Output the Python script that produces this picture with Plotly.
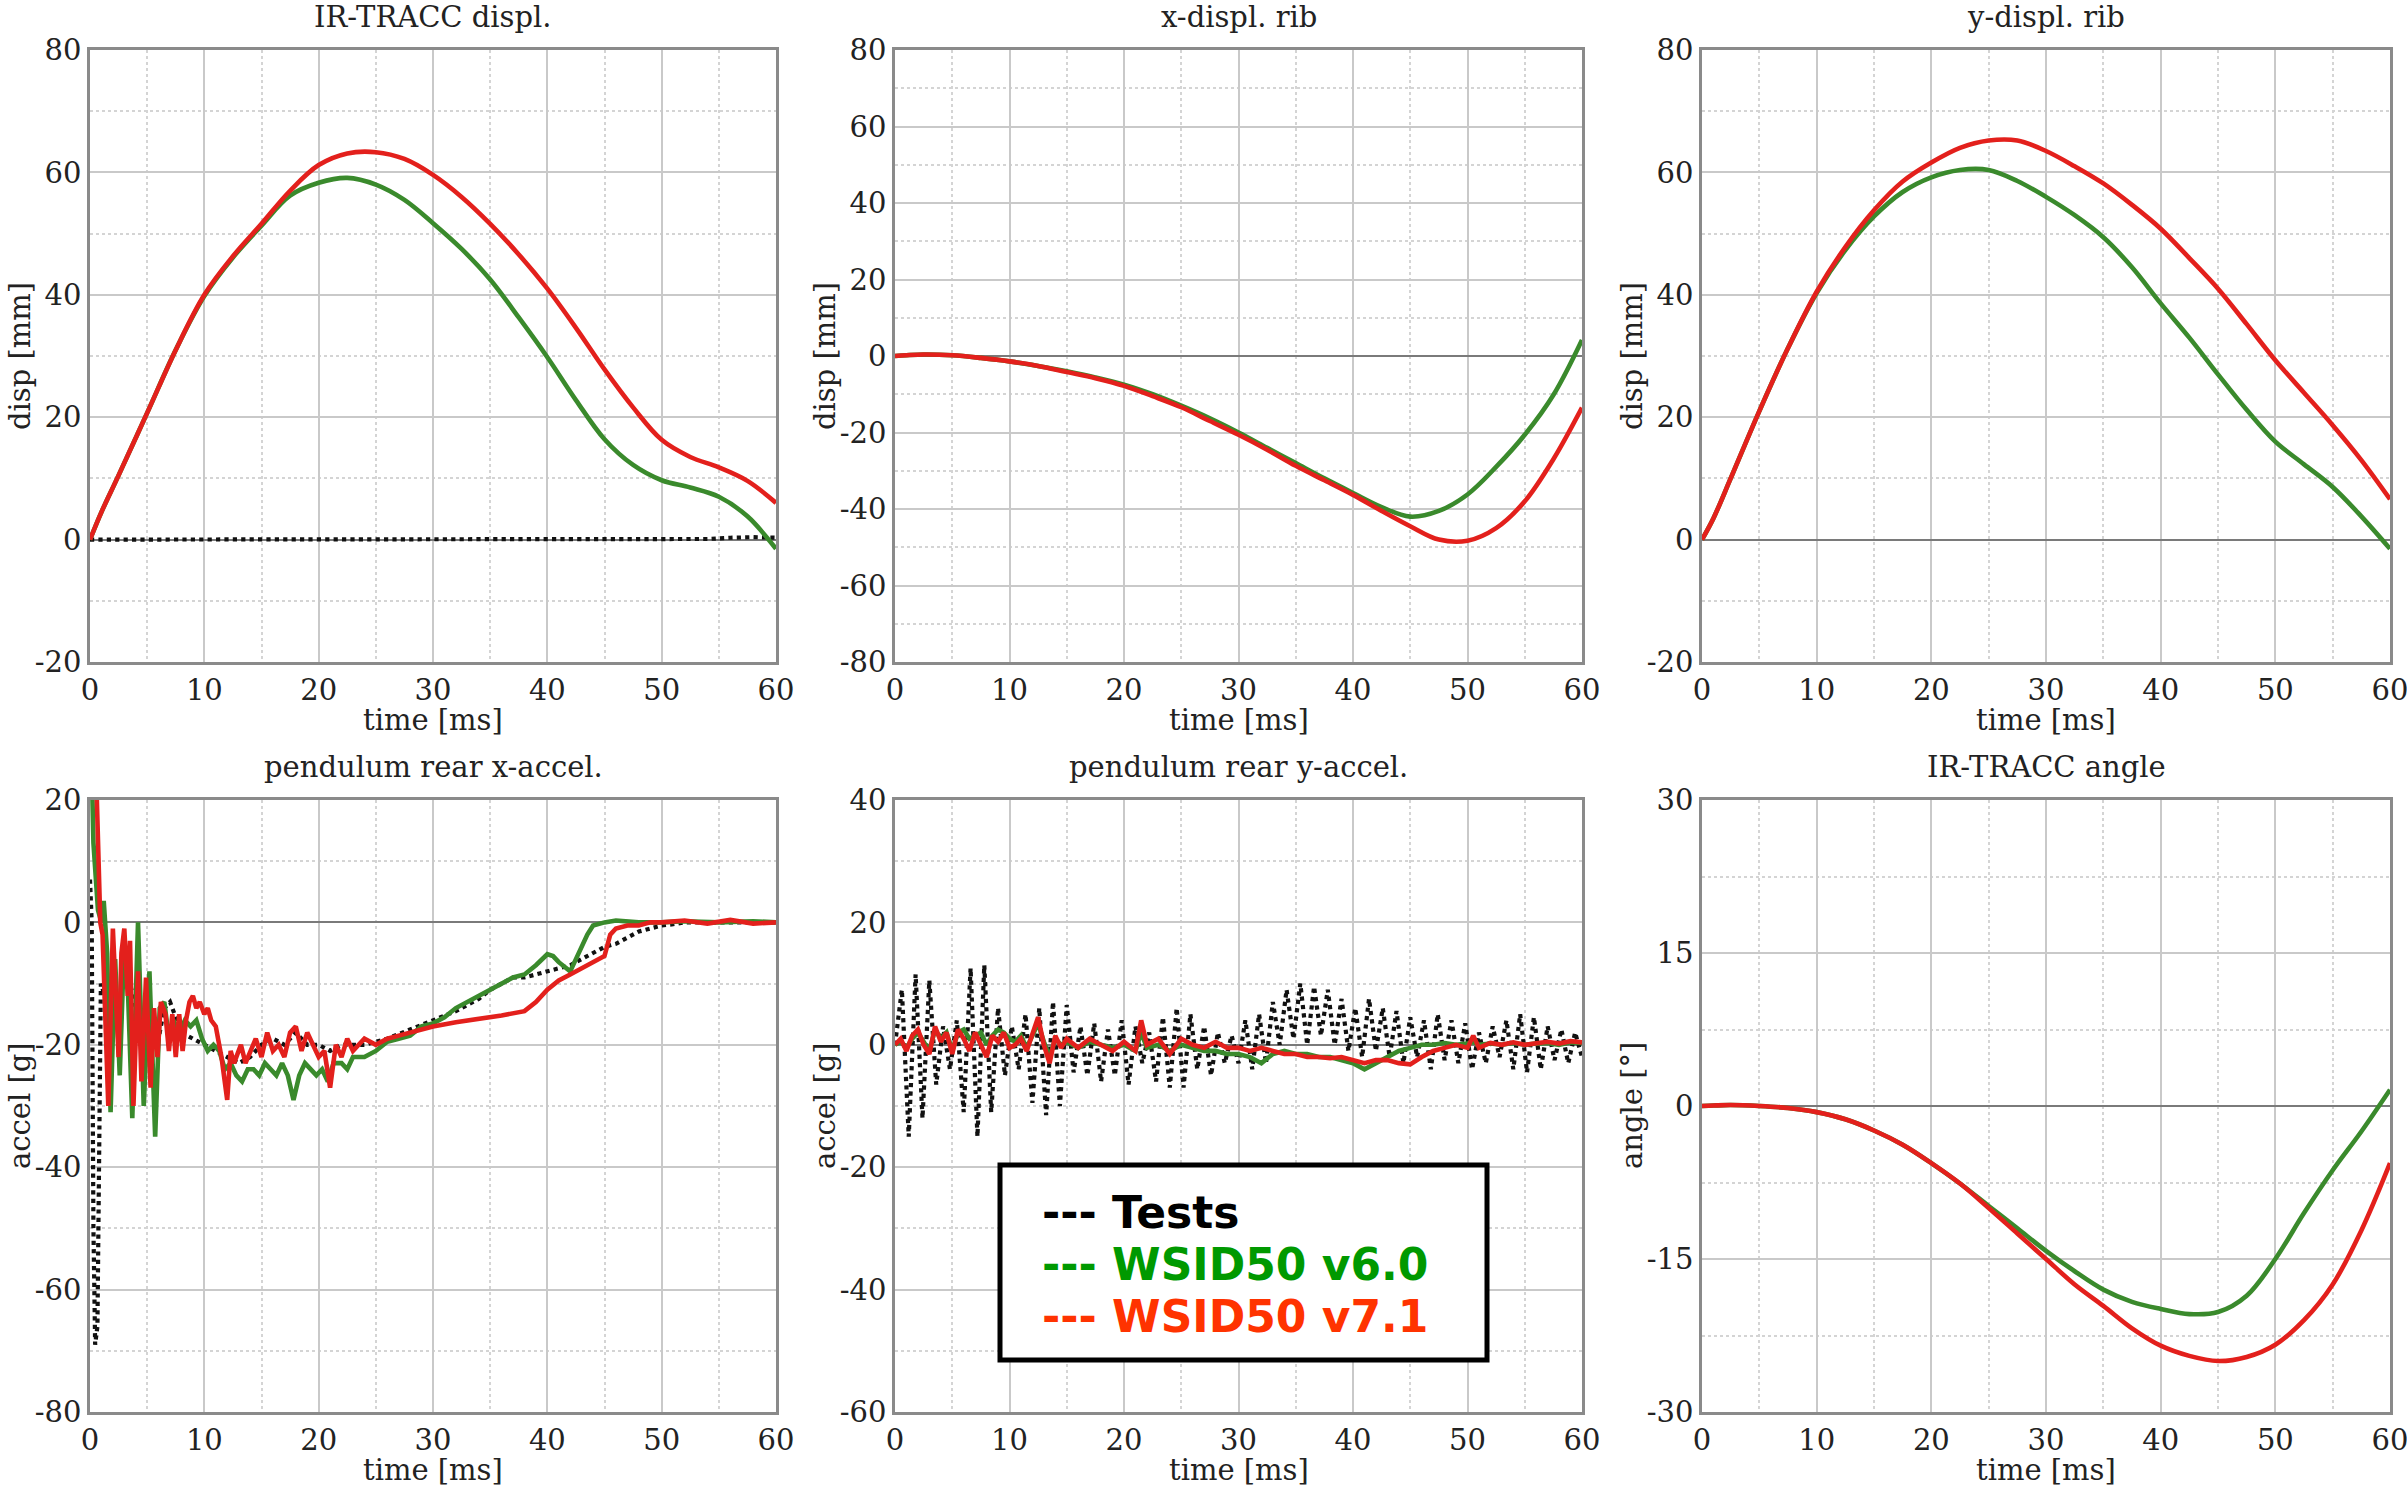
import plotly.graph_objects as go

W, H = 2407, 1487

# ---------------- data ----------------
T_SMOOTH = [0, 1, 2.5, 5, 7.5, 10, 12.5, 15, 17.5, 20, 22.5, 25, 27.5, 30, 32.5, 35,
            37.5, 40, 42.5, 45, 47.5, 50, 52.5, 55, 57.5, 60]

# IR-TRACC displ.
P1_V71 = [0, 4.5, 10.5, 20.7, 31.0, 40.0, 46.3, 51.6, 57.0, 61.2, 63.1, 63.3, 62.2, 59.6,
          56.0, 51.6, 46.6, 41.0, 34.6, 27.8, 21.6, 16.3, 13.5, 11.8, 9.6, 6.0]
P1_V60 = [0, 4.5, 10.5, 20.7, 31.0, 39.8, 46.1, 51.3, 56.2, 58.3, 59.1, 58.0, 55.5, 51.7,
          47.5, 42.5, 36.3, 29.8, 22.8, 16.4, 12.2, 9.7, 8.5, 7.0, 3.8, -1.5]
P1_TEST_T = [0, 10, 20, 30, 40, 50, 54, 56, 58, 60]
P1_TEST = [0, 0, 0, 0, 0, 0, 0.1, 0.3, 0.4, 0.3]

# x-displ. rib
P2_V71 = [0, 0.2, 0.4, 0.2, -0.5, -1.4, -2.6, -4.2, -5.8, -7.8, -10.5, -13.4, -17.0, -20.6,
          -24.5, -28.7, -32.5, -36.3, -40.5, -44.5, -48.0, -48.3, -45.0, -38.0, -27.0, -13.5]
P2_V60 = [0, 0.2, 0.4, 0.2, -0.5, -1.4, -2.6, -4.0, -5.6, -7.5, -10.0, -13.0, -16.3, -20.0,
          -24.0, -28.0, -32.0, -35.8, -39.5, -42.0, -40.5, -36.2, -29.0, -20.6, -10.2, 4.2]

# y-displ. rib
P3_V71 = [0, 3.5, 10.0, 21.0, 31.3, 40.5, 47.8, 53.8, 58.5, 61.6, 64.0, 65.2, 65.2, 63.5,
          61.0, 58.2, 54.7, 50.8, 46.0, 41.0, 35.2, 29.3, 24.0, 18.7, 13.0, 6.6]
P3_V60 = [0, 3.5, 10.0, 21.0, 31.3, 40.3, 47.3, 52.8, 56.8, 59.2, 60.4, 60.4, 58.6, 56.0,
          53.0, 49.4, 44.5, 38.6, 33.0, 27.0, 21.2, 16.0, 12.3, 8.6, 3.8, -1.5]

# IR-TRACC angle
P6_V71 = [0, 0.05, 0.1, 0, -0.2, -0.6, -1.3, -2.4, -3.8, -5.6, -7.6, -10.0, -12.5, -15.0,
          -17.5, -19.6, -21.8, -23.5, -24.5, -25.0, -24.6, -23.4, -21.0, -17.5, -12.2, -5.6]
P6_V60 = [0, 0.05, 0.1, 0, -0.2, -0.6, -1.3, -2.4, -3.8, -5.6, -7.6, -9.8, -12.0, -14.2,
          -16.2, -18.0, -19.2, -19.9, -20.4, -20.2, -18.6, -15.0, -10.5, -6.3, -2.5, 1.6]

# pendulum rear x-accel.
P4_TEST_T = [0, 0.15, 0.3, 0.45, 0.65, 0.8, 0.95, 1.3, 1.6, 2.0, 2.5, 3.0, 3.5, 4.0, 5.0, 6.0,
             6.5, 7.0, 8.0, 9.0, 10, 11, 12, 13, 14, 15, 16, 17, 18, 19, 20, 21, 22, 24, 26,
             28, 30, 32, 34, 35, 36, 37, 38, 39, 40, 41, 42, 43, 44, 45, 46, 47, 48, 49, 50,
             51, 52, 55, 60]
P4_TEST = [7, 0, -50, -69, -66, -40, -10, -12, -20, -12, -15, -8, -10, -14, -18, -19, -14,
           -13, -18, -19, -20, -21, -22, -23, -22, -20, -19, -20, -18, -20, -20, -21, -20,
           -20, -19, -17.5, -16, -14.5, -12.5, -11, -10, -9, -9, -8.5, -8, -7.5, -7, -6, -5,
           -4, -3.5, -2.5, -1.5, -1, -0.5, -0.3, 0, 0, 0]
P4_V71_T = [0.3, 0.6, 0.9, 1.1, 1.6, 2.0, 2.5, 2.75, 3.0, 3.3, 3.5, 3.8, 4.2, 4.5, 4.9, 5.3,
            5.6, 5.9, 6.2, 6.6, 6.9, 7.2, 7.5, 7.8, 8.1, 8.4, 8.7, 9.0, 9.3, 9.6, 10.0, 10.3,
            10.6, 11.0, 11.5, 12.0, 12.3, 12.6, 12.8, 13.2, 13.6, 14.0, 14.5, 15.0, 15.5,
            16.0, 16.5, 17.0, 17.5, 18.0, 18.5, 19.0, 19.5, 20.0, 20.5, 21.0, 21.5, 22.0,
            22.5, 23.0, 23.5, 24.0, 25, 26, 27, 28, 29, 30, 32, 34, 36, 38, 39, 40, 41, 42,
            43, 44, 45, 45.5, 46, 47, 48, 49, 50, 52, 54, 56, 58, 60]
P4_V71 = [40, 20, 0, -2, -30, -1, -22, -5, -1, -12, -3, -30, -8, -26, -9, -27, -14, -22, -13,
          -15, -21, -15, -22, -15, -21, -16, -13, -12, -14, -13, -15, -14, -16, -17, -22, -29,
          -21, -23, -22, -20, -23, -21, -19, -22, -18, -21, -20, -22, -18, -17, -21, -18, -20,
          -22, -21, -27, -20, -22, -19, -21, -20, -19, -20, -19, -18.5, -18, -17.5, -17,
          -16.3, -15.8, -15.2, -14.5, -13, -11, -9.5, -8.5, -7.5, -6.5, -5.5, -2, -1, -0.5,
          -0.5, 0, 0, 0.3, -0.2, 0.4, -0.2, 0]
P4_V60_T = [0.1, 0.3, 0.7, 1.0, 1.2, 1.5, 1.8, 2.2, 2.6, 3.0, 3.3, 3.7, 4.2, 4.7, 5.2, 5.7,
            6.1, 6.5, 6.9, 7.3, 7.8, 8.3, 8.8, 9.3, 9.8, 10.3, 10.8, 11.3, 11.8, 12.3, 12.8,
            13.3, 13.8, 14.3, 14.8, 15.3, 15.8, 16.3, 16.8, 17.3, 17.8, 18.3, 18.8, 19.3,
            19.8, 20.3, 20.8, 21.3, 22.0, 22.5, 23.0, 23.5, 24.0, 25, 26, 27, 28, 29, 30, 31,
            32, 33, 34, 35, 36, 37, 38, 39, 40, 40.5, 41, 42, 42.5, 43, 43.5, 44, 45, 46, 48,
            50, 52, 55, 58, 60]
P4_V60 = [30, 13, 2, 0, 3.5, -5, -31, -6, -25, -3, -10, -32, 0, -30, -8, -35, -14, -13, -19,
          -16, -18, -16, -17, -16, -19, -21, -20, -21, -24, -23, -25, -26, -24, -24, -25, -23,
          -24, -25, -23, -25, -29, -25, -23, -24, -25, -24, -26, -23, -23, -24, -22, -22, -22,
          -21, -19.5, -19, -18.5, -17, -16.5, -15.5, -14, -13, -12, -11, -10, -9, -8.5, -7,
          -5.2, -5.5, -6.5, -8, -6, -4, -2, -0.5, 0, 0.3, 0, 0, 0.2, 0, 0.2, 0]

# pendulum rear y-accel.
P5_TEST_T = [0.0, 0.6, 1.2, 1.8, 2.4, 3.0, 3.6, 4.2, 4.8, 5.4, 6.0, 6.6, 7.2, 7.8, 8.4, 9.0,
             9.6, 10.2, 10.8, 11.4, 12.0, 12.6, 13.2, 13.8, 14.4, 15.0, 15.6, 16.2, 16.8,
             17.4, 18.0, 18.6, 19.2, 19.8, 20.4, 21.0, 21.6, 22.2, 22.8, 23.4, 24.0, 24.6,
             25.2, 25.8, 26.4, 27.0, 27.6, 28.2, 28.8, 29.4, 30.0, 30.6, 31.2, 31.8, 32.4,
             33.0, 33.6, 34.2, 34.8, 35.4, 36.0, 36.6, 37.2, 37.8, 38.4, 39.0, 39.6, 40.2,
             40.8, 41.4, 42.0, 42.6, 43.2, 43.8, 44.4, 45.0, 45.6, 46.2, 46.8, 47.4, 48.0,
             48.6, 49.2, 49.8, 50.4, 51.0, 51.6, 52.2, 52.8, 53.4, 54.0, 54.6, 55.2, 55.8,
             56.4, 57.0, 57.6, 58.2, 58.8, 59.4, 60.0]
P5_TEST = [0, 9, -15, 11.5, -12, 10.5, -6.5, 3, -4, 4, -11, 12.5, -15, 13, -11, 6, -5, 3, -4,
           5, -9.5, 6, -11.5, 7, -10, 6.5, -4.5, 3, -5, 3.5, -6, 2.5, -5, 4, -6.5, 3, -3, 2,
           -6, 4.5, -7, 6, -7, 5, -4, 3, -5, 2, -3, 1.5, -3, 4, -4, 5, -3, 7, 0, 9, 1, 10, 0,
           9.5, 1.5, 9, 0, 7.5, -1, 6, -2, 7.5, -1, 6, -2, 5.5, -3, 4.5, -2, 4, -4, 5, -2.5,
           4, -3, 3.5, -4, 2, -3, 3, -2, 4, -4, 5, -4.5, 4.5, -4, 3, -2.5, 2.5, -3, 2, -2]
P5_SIM_T = [0, 0.5, 1, 1.5, 2, 2.5, 3, 3.5, 4, 4.5, 5, 5.5, 6, 6.5, 7, 7.5, 8, 8.5, 9, 9.5,
            10, 10.5, 11, 11.5, 12, 12.5, 13, 13.5, 14, 14.5, 15, 16, 17, 18, 19, 20, 21,
            21.5, 22, 23, 24, 25, 26, 27, 28, 29, 30, 31, 32, 33, 34, 35, 36, 37, 38, 39, 40,
            41, 42, 43, 44, 45, 46, 47, 48, 49, 50, 50.5, 51, 52, 53, 54, 55, 56, 57, 58, 59,
            60]
P5_V71 = [0, 1, -1, 1.5, 2.5, 0, -1.5, 3, 0.5, 2, -1.5, 2.5, 1, -1, 2, 0, -2, 1.5, 0.5, 2,
          -0.5, 0, 1, -1, 2, 4.5, 0, -3, 1.5, -0.5, 1,
          -0.5, 1, 0, -1, 0.5, -1, 4, 0, 1, -1.5, 1, 0, -0.5, 0.5, -0.5, -0.5, -1, -0.5, -1,
          -1.5, -1.5, -2, -2, -2.2, -2, -2.5, -3, -2.5, -2.5, -3, -3.2, -2, -1, -0.5, 0,
          -0.5, 1.5, -0.5, 0.3, 0, 0.4, 0, 0.3, 0.5, 0.2, 0.6, 0.4]
P5_V60 = [0, 0.5, -0.5, 1, 2, 0.5, -1, 2.5, 1, 2, -1, 2, 2.5, 1, 1.5, 2, 0, 1.5, 2.5, 2, 1,
          0.5, 1.5, -0.5, 1.5, 3.5, 0.5, -2, 1, 0, 0.5,
          -0.5, 0.5, 0, -0.5, 0, -1, 2, -0.5, 0, -1, 0, -0.5, -1, -1, -1.5, -1.5, -2, -3,
          -1.5, -1, -1.5, -1.5, -2, -2, -2.5, -3, -4, -3, -2, -1, -0.5, 0, 0, 0.3, 0, 0.2,
          0.5, 0, 0.2, 0, 0.3, 0, 0.2, 0.3, 0, 0.4, 0.3]

TITLES = ["IR-TRACC displ.", "x-displ. rib", "y-displ. rib",
          "pendulum rear x-accel.", "pendulum rear y-accel.", "IR-TRACC angle"]
YTITLES = ["disp [mm]", "disp [mm]", "disp [mm]", "accel [g]", "accel [g]", "angle [°]"]
YTICKS = [[-20, 0, 20, 40, 60, 80], [-80, -60, -40, -20, 0, 20, 40, 60, 80],
          [-20, 0, 20, 40, 60, 80], [-80, -60, -40, -20, 0, 20],
          [-60, -40, -20, 0, 20, 40], [-30, -15, 0, 15, 30]]
XTICKS = [0, 10, 20, 30, 40, 50, 60]
XTITLE = "time [ms]"
LEGEND_LABELS = ["--- Tests", "--- WSID50 v6.0", "--- WSID50 v7.1"]

# ---------------- styles ----------------
GREEN = "#3a8a2c"
RED = "#e3201c"
TEST_C = "#111111"
LEG_COLORS = ["#000000", "#009900", "#ff3300"]
FONT = "DejaVu Serif"
FS = 29
TXT = "#222222"
LW = 4.6

X_PIX = [(90, 776), (895, 1582), (1702, 2390)]
Y_PIX = [(50, 662), (800, 1412)]


def fx(p):
    return p / W


def fy(p):
    return 1 - p / H


fig = go.Figure()

series = [
    [(P1_TEST_T, P1_TEST, "test"), (T_SMOOTH, P1_V60, "g"), (T_SMOOTH, P1_V71, "r")],
    [(T_SMOOTH, P2_V60, "g"), (T_SMOOTH, P2_V71, "r")],
    [(T_SMOOTH, P3_V60, "g"), (T_SMOOTH, P3_V71, "r")],
    [(P4_TEST_T, P4_TEST, "test"), (P4_V60_T, P4_V60, "gn"), (P4_V71_T, P4_V71, "rn")],
    [(P5_TEST_T, P5_TEST, "test"), (P5_SIM_T, P5_V60, "gn"), (P5_SIM_T, P5_V71, "rn")],
    [(T_SMOOTH, P6_V60, "g"), (T_SMOOTH, P6_V71, "r")],
]

annotations = []
layout_axes = {}
for i in range(6):
    r, c = divmod(i, 3)
    x0, x1 = X_PIX[c]
    y0, y1 = Y_PIX[r]
    xa = "xaxis" if i == 0 else f"xaxis{i+1}"
    ya = "yaxis" if i == 0 else f"yaxis{i+1}"
    xref = "x" if i == 0 else f"x{i+1}"
    yref = "y" if i == 0 else f"y{i+1}"
    common = dict(
        automargin=False, ticklabeloverflow="allow",
        showgrid=True, gridcolor="#c9c9c9", gridwidth=1.5,
        showline=True, linecolor="#8a8a8a", linewidth=2.5, mirror=True,
        ticks="", tickfont=dict(family=FONT, size=FS, color=TXT), tickmode="array",
    )
    layout_axes[xa] = dict(
        common, domain=[fx(x0), fx(x1)], anchor=yref, range=[0, 60],
        tickvals=XTICKS, ticktext=[str(v) for v in XTICKS], zeroline=False,
        minor=dict(tickmode="linear", tick0=0, dtick=5, showgrid=True, gridcolor="#d4d4d4",
                   griddash="dot", gridwidth=1.5),
    )
    yt = YTICKS[i]
    step = yt[1] - yt[0]
    layout_axes[ya] = dict(
        common, domain=[fy(y1), fy(y0)], anchor=xref, range=[yt[0], yt[-1]],
        tickvals=yt, ticktext=[str(v) for v in yt],
        zeroline=True, zerolinecolor="#7a7a7a", zerolinewidth=1.8,
        minor=dict(tickmode="linear", tick0=0, dtick=step / 2, showgrid=True,
                   gridcolor="#d4d4d4", griddash="dot", gridwidth=1.5),
    )
    for t, v, kind in series[i]:
        if kind == "test":
            line = dict(color=TEST_C, width=4.2, dash="dot")
        elif kind in ("g", "gn"):
            line = dict(color=GREEN, width=LW, shape="spline" if kind == "g" else "linear")
        else:
            line = dict(color=RED, width=LW, shape="spline" if kind == "r" else "linear")
        fig.add_trace(go.Scatter(x=t, y=v, mode="lines", line=line, xaxis=xref, yaxis=yref,
                                 showlegend=False, hoverinfo="skip"))
    cx = (x0 + x1) / 2
    cy = (y0 + y1) / 2
    annotations.append(dict(text=TITLES[i], x=fx(cx), y=fy(y0 - 33), xref="paper", yref="paper",
                            showarrow=False, xanchor="center", yanchor="middle",
                            font=dict(family=FONT, size=FS, color=TXT)))
    annotations.append(dict(text=XTITLE, x=fx(cx), y=fy(y1 + 58), xref="paper", yref="paper",
                            showarrow=False, xanchor="center", yanchor="middle",
                            font=dict(family=FONT, size=FS, color=TXT)))
    annotations.append(dict(text=YTITLES[i], x=fx(x0 - 70), y=fy(cy), xref="paper",
                            yref="paper", showarrow=False, xanchor="center", yanchor="middle",
                            textangle=-90, font=dict(family=FONT, size=FS, color=TXT)))

# legend box
shapes = [dict(type="rect", xref="paper", yref="paper", x0=fx(1000), x1=fx(1487),
               y0=fy(1360), y1=fy(1165), line=dict(color="black", width=5),
               fillcolor="white", layer="above")]
for k, (lab, col) in enumerate(zip(LEGEND_LABELS, LEG_COLORS)):
    annotations.append(dict(text=f"<b>{lab}</b>", x=fx(1040), y=fy(1212 + 52 * k),
                            xref="paper", yref="paper", showarrow=False, xanchor="left",
                            yanchor="middle",
                            font=dict(family="DejaVu Sans", size=44, color=col)))

fig.update_layout(
    width=W, height=H, margin=dict(l=0, r=0, t=0, b=0, autoexpand=False),
    paper_bgcolor="white", plot_bgcolor="white", showlegend=False,
    annotations=annotations, shapes=shapes, **layout_axes,
)

fig.write_html("out.html", config={"displayModeBar": False},
               post_script="document.body.style.margin='0';document.body.style.overflow='hidden';")
